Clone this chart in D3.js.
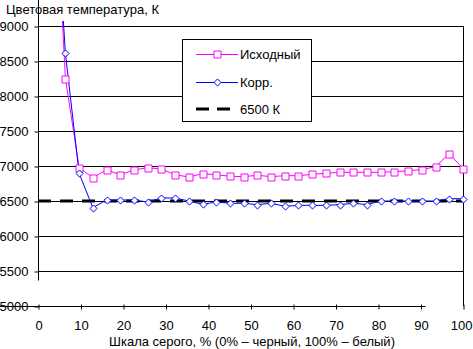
<!DOCTYPE html>
<html><head><meta charset="utf-8">
<script src="https://cdn.jsdelivr.net/npm/d3@7"></script>
<style>body{margin:0;background:#fff}svg{display:block}text{font-family:"Liberation Sans",Arial,sans-serif;font-size:13px;fill:#000}</style>
</head><body><svg id="c" width="473" height="349"></svg>
<script>
// grey levels: k/31*100 %, k = 1..31
const steps = d3.range(1, 32);
const original = [12000, 8250, 6976, 6833, 6943, 6876, 6943, 6976, 6957, 6876, 6843, 6890, 6876, 6853, 6848, 6867, 6848, 6862, 6862, 6881, 6895, 6910, 6910, 6910, 6910, 6919, 6933, 6948, 6990, 7176, 6962];
const corrected = [11700, 8610, 6895, 6405, 6514, 6514, 6514, 6486, 6543, 6543, 6500, 6452, 6486, 6467, 6467, 6448, 6467, 6424, 6438, 6438, 6438, 6448, 6467, 6448, 6500, 6500, 6500, 6500, 6500, 6533, 6533];
const reference = 6500;
const xTicks = [0,10,20,30,40,50,60,70,80,90,100];
const yTicks = [5000,5500,6000,6500,7000,7500,8000,8500,9000];
const seriesNames = ["Исходный", "Корр.", "6500 К"];
const title = "Цветовая температура, К";
const xTitle = "Шкала серого, % (0% – черный, 100% – белый)";

const svg = d3.select("#c");
const x = d3.scaleLinear().domain([0,100]).range([38,463]);
const y = d3.scaleLinear().domain([5000,9000]).range([306,26]);
const xs = steps.map(k => k/31*100);

svg.append("defs").append("clipPath").attr("id","clip").append("rect")
  .attr("x",0).attr("y",21).attr("width",473).attr("height",290);
svg.append("defs").append("clipPath").attr("id","clipL").append("rect")
  .attr("x",38).attr("y",21).attr("width",426).attr("height",290);

// grid
svg.append("g").selectAll("line").data(yTicks.filter(v=>v>5000)).join("line")
  .attr("x1",38).attr("x2",463).attr("y1",d=>y(d)+0.5).attr("y2",d=>y(d)+0.5)
  .attr("stroke","#000").attr("stroke-width",1);
svg.append("line").attr("x1",463.5).attr("x2",463.5).attr("y1",26).attr("y2",306).attr("stroke","#000");

// axes
const yAxis = svg.append("g").attr("transform","translate(38.5,0.5)")
  .call(d3.axisLeft(y).tickValues(yTicks).tickSize(4).tickPadding(6).tickFormat(d3.format("d")));
const xAxis = svg.append("g").attr("transform","translate(0.5,306.5)")
  .call(d3.axisBottom(x).tickValues(xTicks).tickSize(3).tickPadding(11));
[yAxis,xAxis].forEach(a=>{a.select(".domain").attr("stroke","#000");a.selectAll("text").attr("font-size",12).attr("font-family","Liberation Sans, Arial, sans-serif");});
xAxis.selectAll("text").attr("font-size",11.5);
xAxis.selectAll(".tick").filter(d=>d===100).select("text").attr("text-anchor","end").attr("x",8.5);
yAxis.select(".domain").attr("d","M0,-0.5V280");
xAxis.select(".domain").attr("d","M-0.5,0H425");
xAxis.selectAll(".tick line").attr("y1",-2).attr("y2",3);

// reference line
svg.append("g").attr("clip-path","url(#clipL)").append("line").attr("x1",38).attr("x2",463).attr("y1",y(reference)).attr("y2",y(reference))
  .attr("stroke","#000").attr("stroke-width",3).attr("stroke-dasharray","13,9");

const plot = svg.append("g").attr("clip-path","url(#clip)");
const line = d3.line().x((d,i)=>x(xs[i])).y(d=>y(d));
plot.append("path").datum(original).attr("d",line).attr("fill","none").attr("stroke","#ff00ff").attr("stroke-width",1);
plot.append("path").datum(corrected).attr("d",line).attr("fill","none").attr("stroke","#0000ff").attr("stroke-width",1);

const sq = d3.symbol().type(d3.symbolSquare).size(49);
const dm = d3.symbol().type(d3.symbolDiamond2).size(32);
plot.append("g").selectAll("path").data(original).join("path")
  .attr("transform",(d,i)=>`translate(${Math.round(x(xs[i]))+0.5},${Math.round(y(d))+0.5})`)
  .attr("d",sq).attr("fill","#fff").attr("stroke","#ff00ff");
plot.append("g").selectAll("path").data(corrected).join("path")
  .attr("transform",(d,i)=>`translate(${Math.round(x(xs[i]))+0.5},${Math.round(y(d))+0.5})`)
  .attr("d",dm).attr("fill","#fff").attr("stroke","#0000ff");

// legend
const lg = svg.append("g");
lg.append("rect").attr("x",182.5).attr("y",39.5).attr("width",129).attr("height",82).attr("fill","#fff").attr("stroke","#000");
const rows = [54,82,109];
lg.append("line").attr("x1",196).attr("x2",238).attr("y1",rows[0]+0.5).attr("y2",rows[0]+0.5).attr("stroke","#ff00ff");
lg.append("path").attr("transform",`translate(217.5,${rows[0]+0.5})`).attr("d",sq).attr("fill","#fff").attr("stroke","#ff00ff");
lg.append("line").attr("x1",196).attr("x2",238).attr("y1",rows[1]+0.5).attr("y2",rows[1]+0.5).attr("stroke","#0000ff");
lg.append("path").attr("transform",`translate(217.5,${rows[1]+0.5})`).attr("d",dm).attr("fill","#fff").attr("stroke","#0000ff");
lg.append("line").attr("x1",196).attr("x2",238).attr("y1",rows[2]).attr("y2",rows[2]).attr("stroke","#000").attr("stroke-width",3).attr("stroke-dasharray","13,8");
lg.selectAll("text.l").data(seriesNames).join("text").attr("class","l")
  .attr("x",240).attr("y",(d,i)=>rows[i]).attr("dy","0.35em").text(d=>d);

svg.append("text").attr("x",6).attr("y",14).text(title);
svg.append("text").attr("x",252).attr("y",346).attr("text-anchor","middle").text(xTitle);
</script></body></html>
